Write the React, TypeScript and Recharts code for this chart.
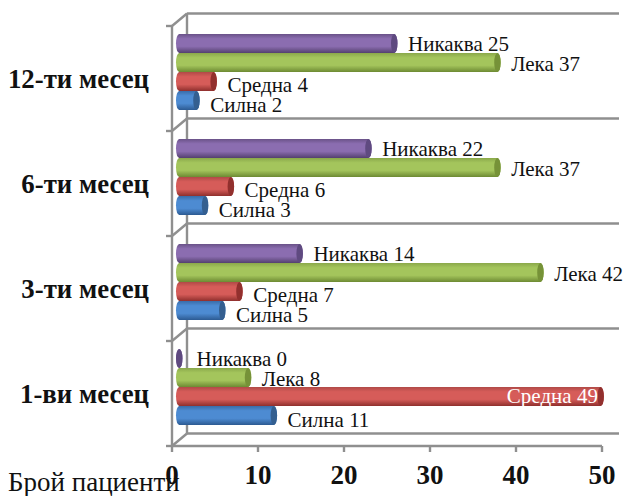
import React from "react";
import { BarChart, Bar, XAxis, YAxis, CartesianGrid, LabelList, Label } from "recharts";

const periods = ["12-ти месец", "6-ти месец", "3-ти месец", "1-ви месец"];
const none = [25, 22, 14, 0];
const mild = [37, 37, 42, 8];
const moderate = [4, 6, 7, 49];
const severe = [2, 3, 5, 11];
const xTicks = [0, 10, 20, 30, 40, 50];

const rows = periods.map((period, i) => ({
  period,
  none: none[i],
  mild: mild[i],
  moderate: moderate[i],
  severe: severe[i],
}));

const SERIF = "'Liberation Serif', 'Times New Roman', serif";
const AXIS = "#8f8f8f";
const DEPTH_X = 15;
const DEPTH_Y = 12.5;
const BAR_SHIFT_X = 4;
const BAR_SHIFT_Y = -6.5;
const CAP = 6.5;

const palette = {
  none: { id: "cylNone", edge: "#6a5288", dark: "#54406f", mid: "#8b6db0", cap: "#5f4a80" },
  mild: { id: "cylMild", edge: "#8aa84a", dark: "#6d8a33", mid: "#a4c55c", cap: "#769238" },
  moderate: { id: "cylModerate", edge: "#b04a47", dark: "#8f2f2d", mid: "#d65c59", cap: "#92302e" },
  severe: { id: "cylSevere", edge: "#3a6ca8", dark: "#2c5a92", mid: "#4d8bd2", cap: "#345f90" },
};
type Key = keyof typeof palette;

function cylinder(key: Key) {
  const c = palette[key];
  return (props: any) => {
    const x = props.x + BAR_SHIFT_X;
    const y = props.y + BAR_SHIFT_Y;
    const h = props.height;
    const end = x + props.width + CAP;
    const r = CAP / 2;
    return (
      <g>
        <path
          d={`M${x + r} ${y} L${end - r} ${y} A${r} ${h / 2} 0 0 1 ${end - r} ${y + h} L${x + r} ${y + h} A${r} ${h / 2} 0 0 1 ${x + r} ${y} Z`}
          fill={`url(#${c.id})`}
        />
        <ellipse cx={end - r} cy={y + h / 2} rx={r} ry={h / 2} fill={c.cap} />
      </g>
    );
  };
}

function seriesLabel(name: string, key: Key, dy: number) {
  return (props: any) => {
    const value = Number(props.value);
    const end = props.x + BAR_SHIFT_X + props.width + CAP;
    const inside = key === "moderate" && value > 45;
    const gap = value === 0 ? 14 : 10.5;
    return (
      <text
        x={inside ? end - 6 : end + gap}
        y={props.y + BAR_SHIFT_Y + props.height / 2 + (inside ? -1 : dy)}
        textAnchor={inside ? "end" : "start"}
        dominantBaseline="central"
        fontFamily={SERIF}
        fontSize={21}
        fill={inside ? "#ffffff" : "#111111"}
      >
        {`${name} ${value}`}
      </text>
    );
  };
}

function wallLine(props: any) {
  const { x1, y1, x2, index } = props;
  return (
    <g key={`wall-${index}`} stroke={AXIS} strokeWidth={2.4} fill="none">
      <line x1={x1 + DEPTH_X} y1={y1 - DEPTH_Y} x2={x2 + 17} y2={y1 - DEPTH_Y} />
      <line x1={x1} y1={y1} x2={x1 + DEPTH_X} y2={y1 - DEPTH_Y} />
      <line x1={x1 - 6} y1={y1} x2={x1} y2={y1} />
    </g>
  );
}

function backEdge(props: any) {
  const { x1, y1, y2, index } = props;
  return (
    <line
      key={`edge-${index}`}
      x1={x1 + DEPTH_X}
      y1={y1 - DEPTH_Y}
      x2={x1 + DEPTH_X}
      y2={y2 - DEPTH_Y}
      stroke={AXIS}
      strokeWidth={2.4}
    />
  );
}

function Gradient({ k }: { k: Key }) {
  const c = palette[k];
  return (
    <linearGradient id={c.id} x1="0" y1="0" x2="0" y2="1">
      <stop offset="0%" stopColor={c.edge} />
      <stop offset="25%" stopColor={c.mid} />
      <stop offset="65%" stopColor={c.mid} />
      <stop offset="100%" stopColor={c.dark} />
    </linearGradient>
  );
}

export default function App() {
  return (
    <div style={{ position: "absolute", left: 0, top: 0, width: 626, height: 496 }}>
      <BarChart
        width={626}
        height={496}
        data={rows}
        layout="vertical"
        margin={{ top: 26, right: 24, bottom: 0, left: 0 }}
        barCategoryGap={14.5}
        barGap={0}
      >
        <defs>
          <Gradient k="none" />
          <Gradient k="mild" />
          <Gradient k="moderate" />
          <Gradient k="severe" />
        </defs>
        <CartesianGrid
          horizontal={wallLine}
          vertical={backEdge}
          horizontalCoordinatesGenerator={({ offset }: any) =>
            periods.concat("").map((_, i) => offset.top + (i * offset.height) / periods.length)
          }
          verticalCoordinatesGenerator={({ offset }: any) => [offset.left]}
        />
        <XAxis
          type="number"
          domain={[0, 50]}
          ticks={xTicks}
          height={50}
          interval={0}
          stroke={AXIS}
          axisLine={{ stroke: AXIS, strokeWidth: 2.4 }}
          tickLine={{ stroke: AXIS, strokeWidth: 2.4 }}
          tickSize={6}
          tickMargin={13}
          tick={{ fontFamily: SERIF, fontSize: 27, fontWeight: 700, fill: "#111111" }}
        >
          <Label
            content={() => (
              <text x={8} y={491} fontFamily={SERIF} fontSize={27} fill="#111111">
                Брой пациенти
              </text>
            )}
          />
        </XAxis>
        <YAxis
          type="category"
          dataKey="period"
          width={172}
          interval={0}
          axisLine={{ stroke: AXIS, strokeWidth: 2.4 }}
          tickLine={false}
          tickMargin={23}
          tickSize={0}
          tick={{ fontFamily: SERIF, fontSize: 26.8, fontWeight: 700, fill: "#111111" }}
        />
        <Bar dataKey="none" isAnimationActive={false} shape={cylinder("none")}>
          <LabelList dataKey="none" content={seriesLabel("Никаква", "none", 0)} />
        </Bar>
        <Bar dataKey="mild" isAnimationActive={false} shape={cylinder("mild")}>
          <LabelList dataKey="mild" content={seriesLabel("Лека", "mild", 1.5)} />
        </Bar>
        <Bar dataKey="moderate" isAnimationActive={false} shape={cylinder("moderate")}>
          <LabelList dataKey="moderate" content={seriesLabel("Средна", "moderate", 3)} />
        </Bar>
        <Bar dataKey="severe" isAnimationActive={false} shape={cylinder("severe")}>
          <LabelList dataKey="severe" content={seriesLabel("Силна", "severe", 4)} />
        </Bar>
      </BarChart>
    </div>
  );
}
